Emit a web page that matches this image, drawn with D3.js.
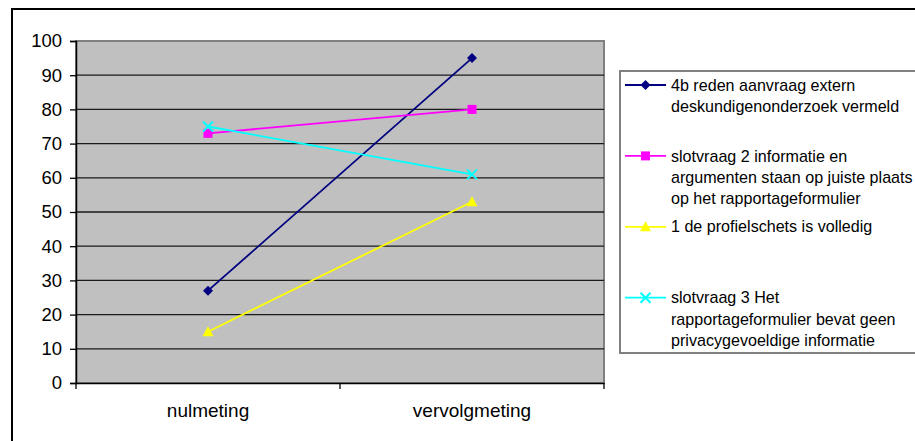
<!DOCTYPE html>
<html>
<head>
	<title> line chart </title>
	<script src="https://d3js.org/d3.v7.min.js"></script>
	<style>
		body { margin: 0; background: #fff; }
		svg { display: block; font-family: "Liberation Sans", Arial, sans-serif; }
	</style>
</head>
<body>
	<svg width="915" height="441"></svg>
	<script type="text/javascript">
		// data
		let categories = ["nulmeting", "vervolgmeting"];
		let yTicks = [0, 10, 20, 30, 40, 50, 60, 70, 80, 90, 100];
		let seriesNames = [
			["4b reden aanvraag extern", "deskundigenonderzoek vermeld"],
			["slotvraag 2 informatie en", "argumenten staan op juiste plaats", "op het rapportageformulier"],
			["1 de profielschets is volledig"],
			["slotvraag 3 Het", "rapportageformulier bevat geen", "privacygevoeldige informatie"]
		];
		let reden = [27, 95];
		let slotvraag2 = [73, 80];
		let profiel = [15, 53];
		let slotvraag3 = [75, 61];
		let seriesValues = [reden, slotvraag2, profiel, slotvraag3];
		let colorSet = ["#000080", "#FF00FF", "#FFFF00", "#00FFFF"];
		let markers = ["diamond", "square", "triangle", "cross"];

		let svg = d3.select("svg");
		let plotLeft = 76, plotRight = 604, plotTop = 41, plotBottom = 383;

		// outer chart border
		svg.append("rect")
			.attr("x", 12).attr("y", 9).attr("width", 920).attr("height", 450)
			.attr("fill", "none").attr("stroke", "black").attr("stroke-width", 2);

		let x = d3.scaleBand().domain(categories).range([plotLeft, plotRight]);
		let y = d3.scaleLinear().domain([0, 100]).range([plotBottom, plotTop]);

		// plot area
		svg.append("rect")
			.attr("x", plotLeft).attr("y", plotTop)
			.attr("width", plotRight - plotLeft).attr("height", plotBottom - plotTop)
			.attr("fill", "#C0C0C0").attr("stroke", "#808080").attr("stroke-width", 2);

		// gridlines
		svg.append("g").selectAll("line").data(yTicks.slice(1, -1)).join("line")
			.attr("x1", plotLeft).attr("x2", plotRight)
			.attr("y1", d => y(d)).attr("y2", d => y(d))
			.attr("stroke", "#1a1a1a").attr("stroke-width", 1.3);

		// y axis
		let yAxis = svg.append("g").attr("transform", "translate(" + plotLeft + ",0)")
			.call(d3.axisLeft(y).tickValues(yTicks).tickSize(6).tickPadding(8));
		yAxis.select(".domain").attr("stroke", "black").attr("stroke-width", 1.5);
		yAxis.selectAll(".tick line").attr("stroke", "black").attr("stroke-width", 1.3);
		yAxis.selectAll(".tick text").attr("font-size", 18.5).attr("fill", "black")
			.attr("font-family", "Liberation Sans, Arial, sans-serif");

		// x axis
		let xAxis = svg.append("g").attr("transform", "translate(0," + plotBottom + ")")
			.call(d3.axisBottom(x).tickSize(0).tickPadding(21));
		xAxis.select(".domain").attr("stroke", "black").attr("stroke-width", 1.5);
		xAxis.selectAll(".tick text").attr("font-size", 19).attr("fill", "black")
			.attr("font-family", "Liberation Sans, Arial, sans-serif");
		let bounds = categories.map(c => x(c)).concat([x(categories[categories.length - 1]) + x.bandwidth()]);
		svg.append("g").selectAll("line").data(bounds).join("line")
			.attr("x1", d => d).attr("x2", d => d)
			.attr("y1", plotBottom).attr("y2", plotBottom + 6)
			.attr("stroke", "black").attr("stroke-width", 1.3);

		function draw_marker(g, type, color, cx, cy)
		{
			if (type == "diamond") {
				g.append("path").attr("d", d3.symbol(d3.symbolSquare, 50)())
					.attr("transform", "translate(" + cx + "," + cy + ") rotate(45)")
					.attr("fill", color);
			}
			if (type == "square") {
				g.append("rect").attr("x", cx - 4.5).attr("y", cy - 4.5).attr("width", 9).attr("height", 9)
					.attr("fill", color);
			}
			if (type == "triangle") {
				g.append("path").attr("d", "M" + cx + "," + (cy - 5.5) + "L" + (cx + 5.5) + "," + (cy + 4.5) + "L" + (cx - 5.5) + "," + (cy + 4.5) + "Z")
					.attr("fill", color);
			}
			if (type == "cross") {
				g.append("path").attr("d", "M" + (cx - 5) + "," + (cy - 5) + "L" + (cx + 5) + "," + (cy + 5) + "M" + (cx + 5) + "," + (cy - 5) + "L" + (cx - 5) + "," + (cy + 5))
					.attr("stroke", color).attr("stroke-width", 2).attr("fill", "none");
			}
		}

		// series
		let cx = c => x(c) + x.bandwidth() / 2;
		seriesValues.forEach(function(vals, i) {
			let g = svg.append("g");
			g.append("path").datum(vals)
				.attr("fill", "none").attr("stroke", colorSet[i]).attr("stroke-width", 1.8)
				.attr("d", d3.line().x((d, j) => cx(categories[j])).y(d => y(d)));
			vals.forEach(function(v, j) { draw_marker(g, markers[i], colorSet[i], cx(categories[j]), y(v)); });
		});

		// legend
		svg.append("rect")
			.attr("x", 620).attr("y", 71).attr("width", 320).attr("height", 282)
			.attr("fill", "white").attr("stroke", "#808080").attr("stroke-width", 2);
		seriesNames.forEach(function(lines, i) {
			let ly = 85 + i * 70.9;
			let g = svg.append("g");
			g.append("line").attr("x1", 625).attr("x2", 666).attr("y1", ly).attr("y2", ly)
				.attr("stroke", colorSet[i]).attr("stroke-width", 1.8);
			draw_marker(g, markers[i], colorSet[i], 645.5, ly);
			g.selectAll("text").data(lines).join("text")
				.attr("x", 671).attr("y", (d, k) => ly + k * 21.3)
				.attr("dy", "0.35em").attr("font-size", 16.1).attr("fill", "black")
				.text(d => d);
		});
	</script>
</body>
</html>
